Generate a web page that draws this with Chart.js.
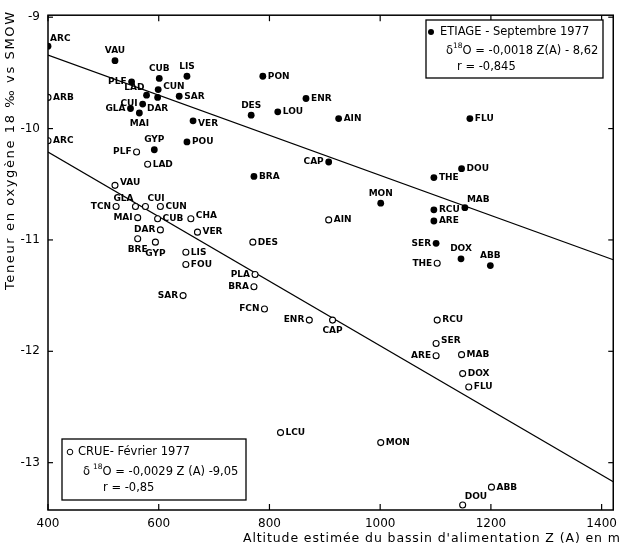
<!DOCTYPE html>
<html>
<head>
<meta charset="utf-8">
<script src="https://cdn.jsdelivr.net/npm/chart.js@4"></script>
<style>
  html, body { margin: 0; padding: 0; background: #fff; }
  canvas { display: block; }
</style>
</head>
<body>
<canvas id="chart" width="624" height="548"></canvas>
<script>
// Etiage (septembre 1977) - filled points
const etiageNames = ["ARC","VAU","PLF","CUB","LIS","CUN","LAD","DAR","CUI","GLA","MAI","SAR","VER","POU","GYP",
  "PON","DES","LOU","ENR","BRA","AIN","FLU","CAP","DOU","THE","MON","MAB","RCU","ARE","SER","DOX","ABB"];
const etiageZ = [400,521,551,601,651,599,578,598,571,549,565,637,662,651,592,
  788,767,815,866,772,925,1162,907,1147,1097,1001,1153,1097,1097,1101,1146,1199];
const etiageO = [-9.26,-9.39,-9.58,-9.55,-9.53,-9.65,-9.70,-9.72,-9.78,-9.82,-9.86,-9.71,-9.93,-10.12,-10.19,
  -9.53,-9.88,-9.85,-9.73,-10.43,-9.91,-9.91,-10.30,-10.36,-10.44,-10.67,-10.71,-10.73,-10.83,-11.03,-11.17,-11.23];
const etiageSide = ["tr","t","l","t","t","ur","tl","b","l","l","b","r","dr","r","t",
  "r","t","r","r","r","r","r","l","r","r","t","tr","r","r","l","t","t"];

// Crue (fevrier 1977) - open points
const crueNames = ["ARB","ARC","PLF","LAD","VAU","TCN","GLA","CUI","CUN","MAI","CUB","CHA","DAR","VER","BRE","GYP",
  "LIS","FOU","DES","PLA","BRA","SAR","FCN","ENR","CAP","AIN","THE","RCU","SER","ARE","MAB","DOX","FLU",
  "LCU","MON","ABB","DOU"];
const crueZ = [400,400,560,580,521,523,558,576,603,562,598,658,603,670,562,594,
  649,649,770,774,772,644,791,872,914,907,1103,1103,1101,1101,1147,1149,1160,
  820,1001,1201,1149];
const crueO = [-9.72,-10.11,-10.21,-10.32,-10.51,-10.70,-10.70,-10.70,-10.70,-10.80,-10.81,-10.81,-10.91,-10.93,-10.99,-11.02,
  -11.11,-11.22,-11.02,-11.31,-11.42,-11.50,-11.62,-11.72,-11.72,-10.82,-11.21,-11.72,-11.93,-12.04,-12.03,-12.20,-12.32,
  -12.73,-12.82,-13.22,-13.38];
const crueSide = ["r","r","l","r","ur","l","tl","tr","r","l","r","ur","l","r","b","b",
  "r","r","r","l","l","l","l","l","b","r","l","r","ur","l","r","r","r",
  "r","r","r","tr"];

// regression lines given in the legends
const etiageFit = { slope: -0.0018, intercept: -8.62, r: "-0,845" };
const crueFit = { slope: -0.0029, intercept: -9.05, r: "-0,85" };

const xTicks = [400, 600, 800, 1000, 1200, 1400];
const yTicks = [-9, -10, -11, -12, -13];
const xRange = [400, 1421];
const yRange = [-13.425, -8.982];

const FONT = "DejaVu Sans";

function fitLine(fit) {
  return xRange.map(z => ({ x: z, y: fit.slope * z + fit.intercept }));
}

function toPoints(zs, os) {
  return zs.map((z, i) => ({ x: z, y: os[i] }));
}

function line(ctx, x1, y1, x2, y2) {
  ctx.beginPath();
  ctx.moveTo(x1, y1);
  ctx.lineTo(x2, y2);
  ctx.stroke();
}

// draws "δ18O = ..." with a raised 18
function drawDelta(ctx, x, y, gap, rest) {
  ctx.font = "11.5px " + FONT;
  ctx.textAlign = "left";
  ctx.fillText("δ", x, y);
  x += ctx.measureText("δ").width + gap;
  ctx.font = "7.5px " + FONT;
  ctx.fillText("18", x, y - 5);
  x += ctx.measureText("18").width;
  ctx.font = "11.5px " + FONT;
  ctx.fillText("O " + rest, x, y);
}

// spread a title over a given length with letter spacing
function spacedText(ctx, text, x, y, length, size) {
  ctx.font = size + "px " + FONT;
  const w = ctx.measureText(text).width;
  const sp = Math.max(0, (length - w) / (text.length - 1));
  ctx.letterSpacing = sp.toFixed(2) + "px";
  ctx.fillText(text, x, y);
  ctx.letterSpacing = "0px";
}

function drawPointLabels(ctx, meta, names, sides) {
  ctx.font = "bold 9px " + FONT;
  ctx.fillStyle = "#000";
  meta.data.forEach((el, i) => {
    const s = sides[i];
    let x = el.x, y = el.y, align = "left";
    if (s === "r") { x += 5; }
    else if (s === "ur") { x += 5; y -= 3; }
    else if (s === "dr") { x += 5; y += 3; }
    else if (s === "l") { x -= 5; align = "right"; }
    else if (s === "t") { y -= 10; align = "center"; }
    else if (s === "b") { y += 11; align = "center"; }
    else if (s === "tr") { x += 2; y -= 8; }
    else if (s === "tl") { x -= 2; y -= 8; align = "right"; }
    ctx.textAlign = align;
    ctx.textBaseline = "middle";
    ctx.fillText(names[i], x, y);
  });
}

const annotations = {
  id: "annotations",
  afterDatasetsDraw(chart) {
    const ctx = chart.ctx;
    const a = chart.chartArea;
    const xs = chart.scales.x, ys = chart.scales.y;
    ctx.save();

    // frame and inner ticks
    ctx.strokeStyle = "#000";
    ctx.lineWidth = 1.5;
    ctx.strokeRect(a.left, a.top, a.right - a.left, a.bottom - a.top);
    ctx.lineWidth = 1.2;
    xTicks.forEach(v => {
      const px = xs.getPixelForValue(v);
      line(ctx, px, a.bottom, px, a.bottom - 6);
      line(ctx, px, a.top, px, a.top + 6);
    });
    yTicks.forEach(v => {
      const py = ys.getPixelForValue(v);
      line(ctx, a.left, py, a.left + 5, py);
      line(ctx, a.right, py, a.right - 5, py);
    });

    // station labels
    drawPointLabels(ctx, chart.getDatasetMeta(0), etiageNames, etiageSide);
    drawPointLabels(ctx, chart.getDatasetMeta(1), crueNames, crueSide);

    // legend box: etiage
    ctx.fillStyle = "#fff";
    ctx.fillRect(426, 20, 177, 58);
    ctx.lineWidth = 1.3;
    ctx.strokeRect(426, 20, 177, 58);
    ctx.fillStyle = "#000";
    ctx.beginPath();
    ctx.arc(431, 32, 3, 0, Math.PI * 2);
    ctx.fill();
    ctx.textBaseline = "middle";
    ctx.font = "11.5px " + FONT;
    ctx.textAlign = "left";
    ctx.fillText("ETIAGE - Septembre 1977", 440, 32);
    drawDelta(ctx, 446, 51, 0, "= -0,0018 Z(A) - 8,62");
    ctx.font = "11.5px " + FONT;
    ctx.fillText("r = " + etiageFit.r, 457, 67);

    // legend box: crue
    ctx.fillStyle = "#fff";
    ctx.fillRect(62, 439, 184, 61);
    ctx.strokeRect(62, 439, 184, 61);
    ctx.fillStyle = "#000";
    ctx.lineWidth = 1;
    ctx.beginPath();
    ctx.arc(70, 452, 2.8, 0, Math.PI * 2);
    ctx.stroke();
    ctx.font = "11.5px " + FONT;
    ctx.fillText("CRUE- Février 1977", 78, 452);
    drawDelta(ctx, 83, 472, 3, "= -0,0029 Z (A) -9,05");
    ctx.font = "11.5px " + FONT;
    ctx.fillText("r = " + crueFit.r, 103, 488);

    // axis titles
    ctx.textAlign = "left";
    spacedText(ctx, "Altitude estimée du bassin d'alimentation Z (A) en m", 243, 539, 377, 12.5);

    ctx.translate(11, 290);
    ctx.rotate(-Math.PI / 2);
    spacedText(ctx, "Teneur en oxygène 18 ‰ vs SMOW", 0, 0, 278, 13);
    ctx.restore();
  }
};

new Chart(document.getElementById("chart"), {
  type: "scatter",
  data: {
    datasets: [
      {
        label: "ETIAGE",
        data: toPoints(etiageZ, etiageO),
        pointRadius: 3.4,
        pointBackgroundColor: "#000",
        pointBorderColor: "#000",
        pointBorderWidth: 0
      },
      {
        label: "CRUE",
        data: toPoints(crueZ, crueO),
        pointRadius: 3,
        pointBackgroundColor: "#fff",
        pointBorderColor: "#000",
        pointBorderWidth: 1.1
      },
      {
        label: "fit etiage",
        data: fitLine(etiageFit),
        showLine: true,
        borderColor: "#000",
        borderWidth: 1.3,
        pointRadius: 0
      },
      {
        label: "fit crue",
        data: fitLine(crueFit),
        showLine: true,
        borderColor: "#000",
        borderWidth: 1.3,
        pointRadius: 0
      }
    ]
  },
  options: {
    responsive: false,
    animation: false,
    layout: { padding: { left: 0, right: 2, top: 8, bottom: 0 } },
    plugins: { legend: { display: false }, tooltip: { enabled: false } },
    scales: {
      x: {
        type: "linear",
        min: xRange[0],
        max: xRange[1],
        afterBuildTicks: scale => { scale.ticks = xTicks.map(v => ({ value: v })); },
        afterFit: scale => { scale.height = 38; },
        grid: { display: false, drawTicks: false },
        border: { display: false },
        ticks: {
          padding: 7,
          maxRotation: 0,
          color: "#000",
          font: { family: FONT, size: 12 },
          callback: v => String(v)
        }
      },
      y: {
        type: "linear",
        min: yRange[0],
        max: yRange[1],
        afterBuildTicks: scale => { scale.ticks = yTicks.map(v => ({ value: v })); },
        afterFit: scale => { scale.width = 48; },
        grid: { display: false, drawTicks: false },
        border: { display: false },
        ticks: {
          padding: 8,
          color: "#000",
          font: { family: FONT, size: 12 },
          callback: v => String(v)
        }
      }
    }
  },
  plugins: [annotations]
});
</script>
</body>
</html>
